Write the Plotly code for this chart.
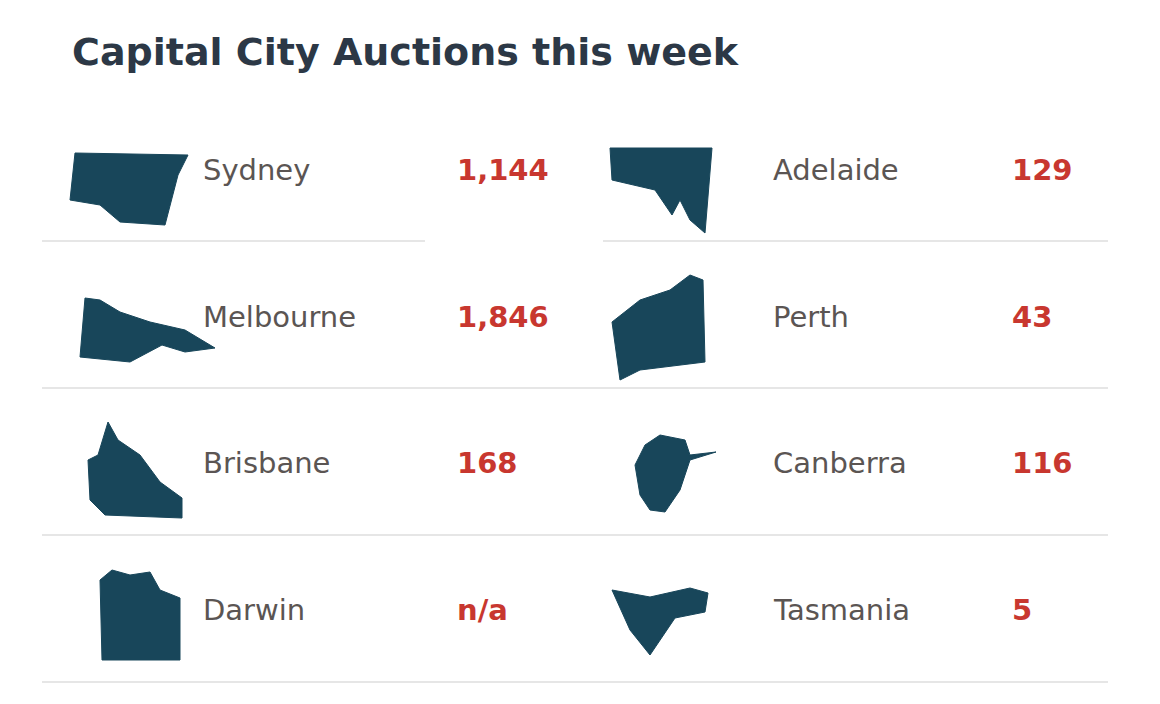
import plotly.graph_objects as go

# auction data
cities_left = ["Sydney", "Melbourne", "Brisbane", "Darwin"]
counts_left = ["1,144", "1,846", "168", "n/a"]
cities_right = ["Adelaide", "Perth", "Canberra", "Tasmania"]
counts_right = ["129", "43", "116", "5"]

# rough state silhouettes (pixel outline points)
state_shapes = {
    "Sydney": [(75,153),(188,155),(178,175),(165,225),(120,222),(100,205),(70,200)],
    "Melbourne": [(85,298),(100,300),(120,312),(150,322),(185,330),(215,348),(185,352),(162,345),(130,362),(80,357)],
    "Brisbane": [(108,422),(118,440),(140,455),(160,482),(182,498),(182,518),(105,515),(90,500),(88,460),(98,455)],
    "Darwin": [(100,580),(112,570),(130,575),(150,572),(160,590),(180,598),(180,660),(102,660)],
    "Adelaide": [(610,148),(712,148),(705,233),(690,220),(680,200),(672,215),(655,190),(612,180)],
    "Perth": [(690,275),(703,280),(705,362),(640,370),(620,380),(612,322),(640,300),(670,290)],
    "Canberra": [(660,435),(685,440),(690,455),(716,452),(690,460),(680,490),(665,512),(650,510),(640,495),(635,465),(645,445)],
    "Tasmania": [(612,590),(650,597),(690,588),(708,593),(705,612),(675,618),(650,655),(630,630)],
}

row_y = [170, 317, 463, 610]
line_y = [241, 388, 535, 682]

fig = go.Figure()

for name, pts in state_shapes.items():
    xs = [p[0] for p in pts] + [pts[0][0]]
    ys = [p[1] for p in pts] + [pts[0][1]]
    fig.add_trace(go.Scatter(x=xs, y=ys, fill="toself", fillcolor="#18465a",
                             line=dict(color="#18465a", width=1), mode="lines",
                             hoverinfo="skip", showlegend=False))

name_font = dict(family="DejaVu Sans", size=29, color="#5b5553")
num_font = dict(family="DejaVu Sans", size=29, color="#c8372f")

for i, y in enumerate(row_y):
    fig.add_annotation(x=201, y=y, text=cities_left[i], showarrow=False, xanchor="left", font=name_font)
    fig.add_annotation(x=455, y=y, text="<b>%s</b>" % counts_left[i], showarrow=False, xanchor="left", font=num_font)
    fig.add_annotation(x=771, y=y, text=cities_right[i], showarrow=False, xanchor="left", font=name_font)
    fig.add_annotation(x=1010, y=y, text="<b>%s</b>" % counts_right[i], showarrow=False, xanchor="left", font=num_font)

for i, y in enumerate(line_y):
    if i == 0:
        segs = [(42, 425), (603, 1108)]
    else:
        segs = [(42, 1108)]
    for x0, x1 in segs:
        fig.add_shape(type="line", x0=x0, x1=x1, y0=y, y1=y, line=dict(color="#e6e6e6", width=2))

fig.add_annotation(x=70, y=52, text="<b>Capital City Auctions this week</b>", showarrow=False,
                   xanchor="left", font=dict(family="DejaVu Sans", size=38, color="#2c3846"))

# page has an 8px body margin, so shift the ranges to keep pixel coordinates
fig.update_xaxes(range=[8, 1168], visible=False, fixedrange=True)
fig.update_yaxes(range=[712, 8], visible=False, fixedrange=True)
fig.update_layout(width=1160, height=704, margin=dict(l=0, r=0, t=0, b=0),
                  plot_bgcolor="white", paper_bgcolor="white")

fig.write_html("out.html")
